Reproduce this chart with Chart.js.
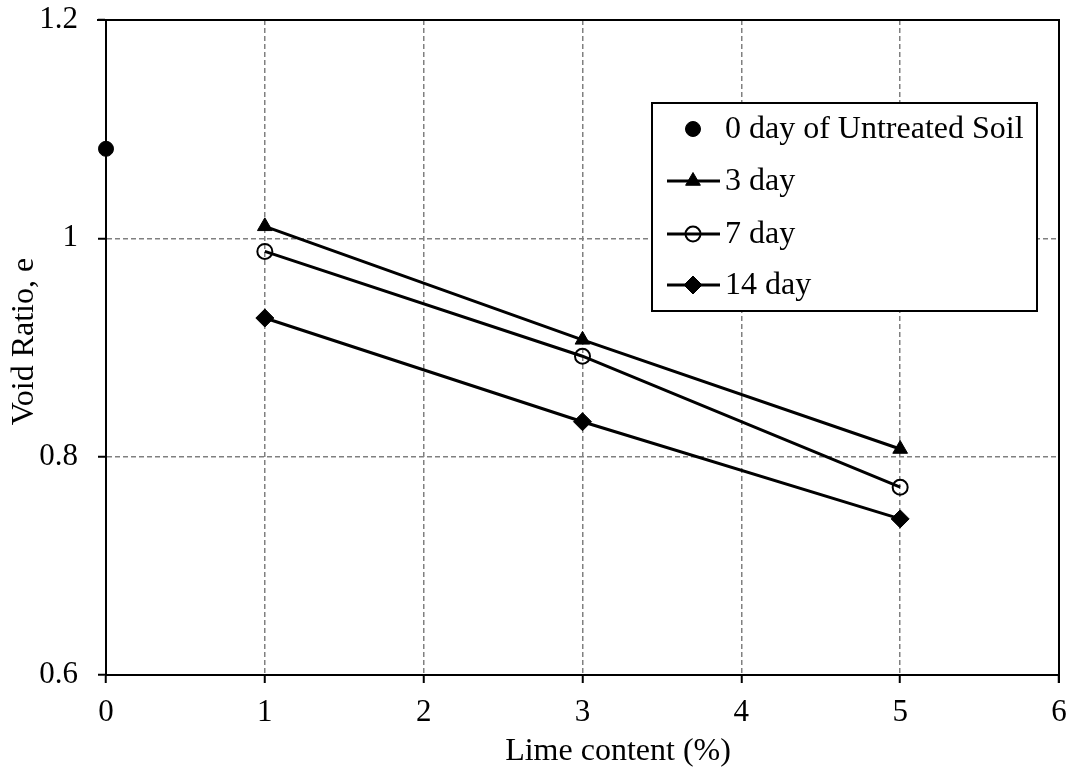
<!DOCTYPE html>
<html><head><meta charset="utf-8">
<script src="https://cdn.jsdelivr.net/npm/chart.js@4/dist/chart.umd.min.js"></script>
<style>html,body{margin:0;padding:0;background:#fff}canvas{display:block}</style>
</head><body>
<canvas id="c" width="1077" height="771"></canvas>
<script>
// ---- data ----
const limeContent = [1, 3, 5];
const untreatedX = [0];
const untreatedE = [1.082];
const day3 = [1.011, 0.907, 0.807];
const day7 = [0.988, 0.892, 0.772];
const day14 = [0.927, 0.832, 0.743];
const seriesNames = ['0 day of Untreated Soil', '3 day', '7 day', '14 day'];
const xTickValues = [0, 1, 2, 3, 4, 5, 6];
const yTickLabels = ['0.6', '0.8', '1', '1.2'];
const xTitle = 'Lime content (%)';
const yTitle = 'Void Ratio, e';

const FONT = "'Liberation Serif', 'Times New Roman', serif";
Chart.defaults.font.family = FONT;
Chart.defaults.color = '#000';

const toPts = (xs, ys) => xs.map((x, i) => ({x: x, y: ys[i]}));

const markerStyles = [
  {style: 'circle', r: 7.5, fill: '#000', bw: 1},
  {style: 'triangle', r: 8.5, fill: '#000', bw: 1},
  {style: 'circle', r: 7.5, fill: 'rgba(0,0,0,0)', bw: 2},
  {style: 'rectRot', r: 9, fill: '#000', bw: 1}
];

function drawMarker(ctx, m, x, y) {
  ctx.save();
  ctx.beginPath();
  if (m.style === 'circle') {
    ctx.arc(x, y, m.r, 0, Math.PI * 2);
  } else if (m.style === 'triangle') {
    ctx.moveTo(x, y - m.r);
    ctx.lineTo(x + m.r * Math.sin(Math.PI * 2 / 3), y + m.r / 2);
    ctx.lineTo(x - m.r * Math.sin(Math.PI * 2 / 3), y + m.r / 2);
    ctx.closePath();
  } else {
    ctx.moveTo(x, y - m.r);
    ctx.lineTo(x + m.r, y);
    ctx.lineTo(x, y + m.r);
    ctx.lineTo(x - m.r, y);
    ctx.closePath();
  }
  ctx.fillStyle = m.fill;
  ctx.fill();
  ctx.lineWidth = m.bw;
  ctx.strokeStyle = '#000';
  ctx.stroke();
  ctx.restore();
}

const framePlugin = {
  id: 'frame',
  beforeDatasetsDraw(chart) {
    const {ctx, chartArea: a} = chart;
    ctx.save();
    ctx.strokeStyle = '#000';
    ctx.lineWidth = 2;
    ctx.beginPath();
    ctx.moveTo(a.left - 9, a.top);
    ctx.lineTo(a.right, a.top);
    ctx.lineTo(a.right, a.bottom + 8);
    ctx.stroke();
    ctx.restore();
  },
  afterDraw(chart) {
    const ctx = chart.ctx;
    const a = chart.chartArea;
    // axis titles
    ctx.save();
    ctx.font = '32px ' + FONT;
    ctx.fillStyle = '#000';
    ctx.textAlign = 'center';
    ctx.textBaseline = 'alphabetic';
    ctx.fillText(xTitle, 618, 760);
    ctx.translate(33, (a.top + a.bottom) / 2 - 6);
    ctx.rotate(-Math.PI / 2);
    ctx.fillText(yTitle, 0, 0);
    ctx.restore();
    // legend
    const bx = 652, by = 103, bw = 385, bh = 208;
    ctx.save();
    ctx.fillStyle = '#fff';
    ctx.fillRect(bx, by, bw, bh);
    ctx.strokeStyle = '#000';
    ctx.lineWidth = 2;
    ctx.strokeRect(bx, by, bw, bh);
    const rows = [129, 181, 234, 285];
    ctx.font = '32px ' + FONT;
    ctx.textBaseline = 'middle';
    ctx.textAlign = 'left';
    seriesNames.forEach((name, i) => {
      const y = rows[i];
      if (i > 0) {
        ctx.beginPath();
        ctx.lineWidth = 3;
        ctx.strokeStyle = '#000';
        ctx.moveTo(667, y);
        ctx.lineTo(720, y);
        ctx.stroke();
      }
      drawMarker(ctx, markerStyles[i], 693, y);
      ctx.fillStyle = '#000';
      ctx.fillText(name, 725, y + 1);
    });
    ctx.restore();
  }
};

const seriesData = [toPts(untreatedX, untreatedE), toPts(limeContent, day3), toPts(limeContent, day7), toPts(limeContent, day14)];

const datasets = seriesData.map((d, i) => ({
  label: seriesNames[i],
  data: d,
  showLine: i > 0,
  borderColor: '#000',
  borderWidth: 3,
  pointStyle: markerStyles[i].style,
  pointRadius: markerStyles[i].r,
  pointBackgroundColor: markerStyles[i].fill,
  pointBorderColor: '#000',
  pointBorderWidth: markerStyles[i].bw,
  backgroundColor: markerStyles[i].fill,
  clip: false
}));

const gridColor = (ctx, edges) => (edges.includes(ctx.tick && ctx.tick.value) ? 'rgba(0,0,0,0)' : '#808080');

new Chart(document.getElementById('c'), {
  type: 'scatter',
  data: {datasets: datasets},
  options: {
    responsive: false,
    devicePixelRatio: 1,
    animation: false,
    layout: {padding: {left: 0, top: 20, right: 18, bottom: 0}},
    plugins: {legend: {display: false}, tooltip: {enabled: false}},
    scales: {
      x: {
        type: 'linear', min: 0, max: 6,
        afterFit(s) { s.height = 96; s.paddingLeft = 0; s.paddingRight = 0; },
        afterBuildTicks(s) { s.ticks = xTickValues.map(v => ({value: v})); },
        ticks: {font: {size: 31}, color: '#000', padding: 11, callback: v => String(v)},
        grid: {
          color: c => gridColor(c, [0, 6]), lineWidth: 1.5,
          tickColor: '#000', tickWidth: 2, tickLength: 8, tickBorderDash: []
        },
        border: {color: '#000', width: 2, dash: [5, 3]},
        title: {display: false, text: xTitle}
      },
      y: {
        type: 'linear', min: 0.6, max: 1.2,
        afterFit(s) { s.width = 106; s.paddingTop = 0; s.paddingBottom = 0; },
        afterBuildTicks(s) { s.ticks = yTickLabels.map(l => ({value: parseFloat(l)})); },
        ticks: {font: {size: 31}, color: '#000', padding: 20,
          callback: (v, i) => yTickLabels[i]},
        grid: {
          color: c => gridColor(c, [0.6, 1.2]), lineWidth: 1.5,
          tickColor: '#000', tickWidth: 2, tickLength: 8, tickBorderDash: []
        },
        border: {color: '#000', width: 2, dash: [5, 3]},
        title: {display: false, text: yTitle}
      }
    }
  },
  plugins: [framePlugin]
});
</script>
</body></html>
